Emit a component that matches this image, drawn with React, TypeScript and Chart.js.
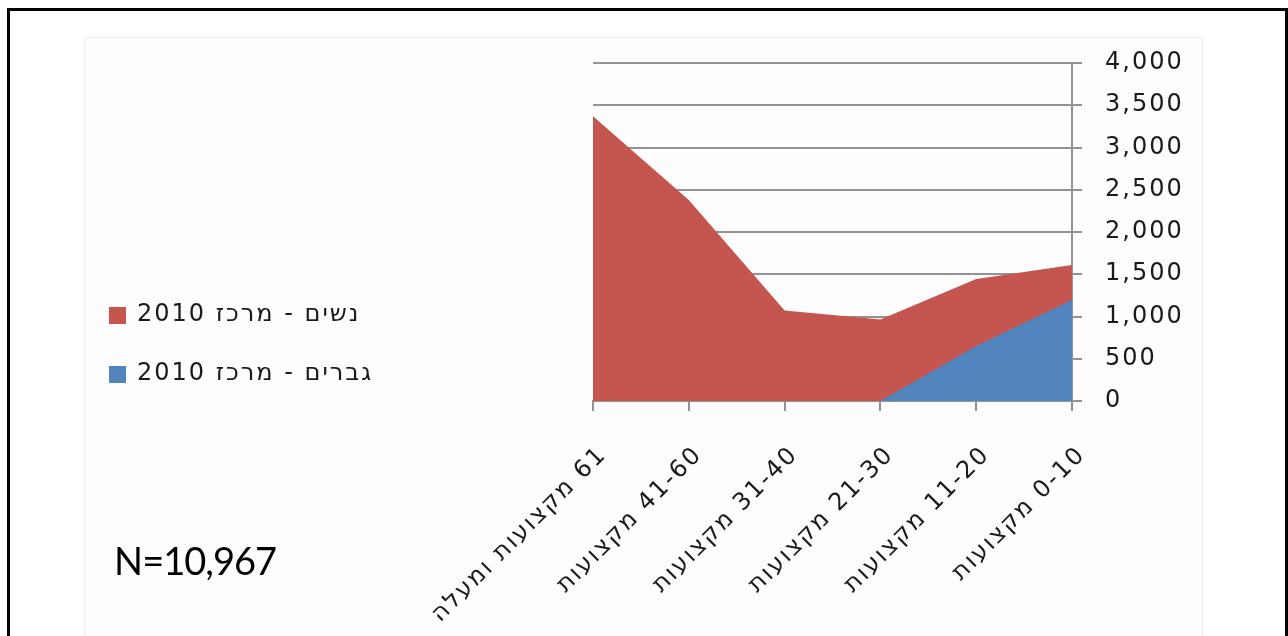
import React, { useEffect, useRef } from "react";
import { Chart, registerables } from "chart.js";

Chart.register(...registerables);

// Number of occupations per person, grouped in ranges
const categories = [
  "61 מקצועות ומעלה",
  "41-60 מקצועות",
  "31-40 מקצועות",
  "21-30 מקצועות",
  "11-20 מקצועות",
  "0-10 מקצועות",
];

const womenCenter2010 = [3370, 2380, 1070, 965, 1445, 1610];
const menCenter2010 = [0, 0, 0, 0, 650, 1195];

const womenLabel = "נשים - מרכז 2010";
const menLabel = "גברים - מרכז 2010";

const womenColor = "#C4554F";
const menColor = "#5284BE";

const yMin = 0;
const yMax = 4000;
const yStep = 500;

const sampleSizeText = "N=10,967";

const W = 1288;
const H = 636;
const TEXT_FONT = "'DejaVu Sans'";
const TEXT_SPACING = "2px";

const decorPlugin = {
  id: "decor",
  beforeDraw(chart: any) {
    const ctx = chart.ctx as CanvasRenderingContext2D;
    ctx.save();
    ctx.fillStyle = "#ffffff";
    ctx.fillRect(0, 0, W, H);
    // inner chart panel
    ctx.fillStyle = "#fdfdfd";
    ctx.fillRect(84, 37, 1119, H - 37);
    ctx.strokeStyle = "#eeeeee";
    ctx.lineWidth = 1;
    ctx.strokeRect(84.5, 37.5, 1118, H);
    // outer frame
    ctx.fillStyle = "#000000";
    ctx.fillRect(7, 8, W - 7, 3);
    ctx.fillRect(7, 8, 3, H - 8);
    ctx.fillRect(W - 3, 8, 3, H - 8);
    ctx.restore();
    // axis labels are set a little loosely
    (ctx as any).letterSpacing = TEXT_SPACING;
  },
  afterDraw(chart: any) {
    const ctx = chart.ctx as CanvasRenderingContext2D;
    ctx.save();
    // legend, listed in dataset order
    const rows = [315, 374];
    chart.data.datasets.forEach((ds: any, i: number) => {
      const cy = rows[i];
      ctx.fillStyle = ds.backgroundColor;
      ctx.fillRect(109, cy - 8, 17, 17);
      ctx.fillStyle = "#1a1a1a";
      ctx.font = `24px ${TEXT_FONT}`;
      (ctx as any).letterSpacing = TEXT_SPACING;
      ctx.direction = "rtl";
      ctx.textAlign = "left";
      ctx.textBaseline = "middle";
      ctx.fillText(ds.label, 137, cy);
    });
    // sample size note
    ctx.direction = "ltr";
    (ctx as any).letterSpacing = "-1px";
    ctx.fillStyle = "#000000";
    ctx.font = "38px Lato";
    ctx.textAlign = "right";
    ctx.textBaseline = "alphabetic";
    ctx.fillText(sampleSizeText, 276, 575);
    ctx.restore();
    (ctx as any).letterSpacing = "0px";
  },
};

export default function App() {
  const ref = useRef<HTMLCanvasElement | null>(null);

  useEffect(() => {
    if (!ref.current) return;
    const gridColor = "#939393";
    const chart = new Chart(ref.current, {
      type: "line",
      data: {
        labels: categories,
        datasets: [
          {
            label: womenLabel,
            data: womenCenter2010,
            backgroundColor: womenColor,
            borderColor: womenColor,
            borderWidth: 0,
            pointRadius: 0,
            fill: "origin",
            tension: 0,
            order: 2,
          },
          {
            label: menLabel,
            data: menCenter2010,
            backgroundColor: menColor,
            borderColor: menColor,
            borderWidth: 0,
            pointRadius: 0,
            fill: "origin",
            tension: 0,
            order: 1,
          },
        ],
      },
      options: {
        responsive: false,
        animation: false,
        events: [],
        layout: { padding: { left: 593, top: 63, right: 0, bottom: 0 } },
        plugins: {
          legend: { display: false },
          tooltip: { enabled: false },
        },
        scales: {
          x: {
            offset: false,
            grid: {
              display: true,
              drawOnChartArea: false,
              drawTicks: true,
              tickLength: 10,
              color: gridColor,
              lineWidth: 2,
            },
            border: { display: true, color: gridColor, width: 2 },
            ticks: {
              autoSkip: false,
              maxRotation: 45,
              minRotation: 45,
              padding: 30,
              labelOffset: 10,
              color: "#1a1a1a",
              font: { family: TEXT_FONT, size: 24 },
            },
            afterFit(scale: any) {
              scale.height = 235;
            },
          },
          y: {
            position: "right",
            min: yMin,
            max: yMax,
            grid: {
              color: gridColor,
              lineWidth: 2,
              drawTicks: true,
              tickLength: 10,
            },
            border: { display: true, color: gridColor, width: 2 },
            ticks: {
              stepSize: yStep,
              padding: 23,
              color: "#1a1a1a",
              font: { family: TEXT_FONT, size: 24 },
              callback: (v: any) => Number(v).toLocaleString("en-US"),
            },
            afterFit(scale: any) {
              scale.width = 216;
            },
          },
        },
      },
      plugins: [decorPlugin],
    });
    return () => chart.destroy();
  }, []);

  return (
    <canvas
      ref={ref}
      width={W}
      height={H}
      dir="rtl"
      style={{ position: "fixed", left: 0, top: 0, width: W, height: H, display: "block" }}
    />
  );
}
